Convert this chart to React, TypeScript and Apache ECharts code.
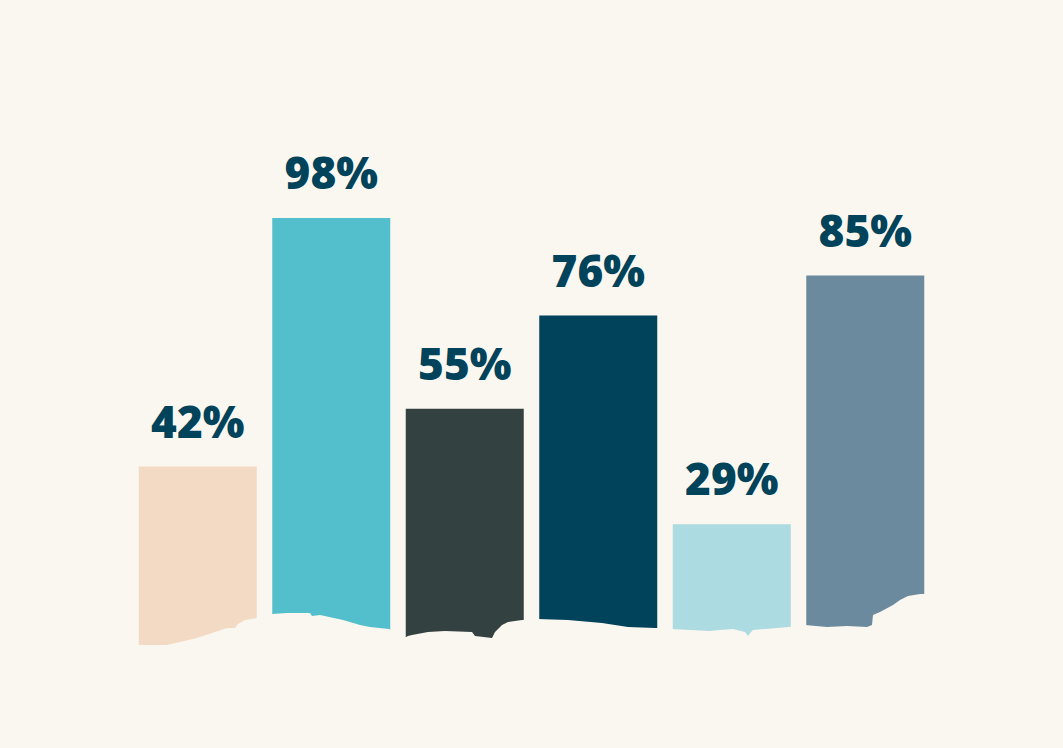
import React, { useEffect, useRef } from "react";
import * as echarts from "echarts";

const categories = ["A", "B", "C", "D", "E", "F"];
const values = [42, 98, 55, 76, 29, 85];
const barColors = ["#F3DAC4", "#53BFCC", "#344141", "#00435A", "#ADDBE2", "#6B8A9E"];
const BG = "#FAF7F0";
const LABEL = "#00435A";

// Irregular "torn" bottom edge drawn over the bars in background colour
const blobOutline: number[][] = [
  [120, 660], [120, 645], [139, 645], [167, 645], [197, 638], [227, 628], [235, 628],
  [238, 624], [245, 620], [257, 618], [265, 616],
  [272, 614], [287, 613], [310, 613], [312, 616], [320, 615], [343, 620], [360, 625], [370, 627], [389, 629],
  [397, 632],
  [404, 638], [408, 636], [412, 635], [428, 632], [445, 631], [472, 632], [475, 636], [492, 638], [495, 632],
  [502, 625], [508, 622], [522, 620], [530, 620],
  [537, 619], [568, 620], [602, 623], [628, 627], [655, 628], [663, 628],
  [671, 629], [710, 631], [720, 630], [733, 629], [745, 632], [748, 636], [751, 632], [753, 630], [789, 627],
  [797, 626],
  [805, 625], [827, 627], [847, 626], [867, 627], [872, 625], [873, 615], [880, 612], [893, 605], [900, 600],
  [908, 596], [920, 594], [923, 594], [940, 594],
  [940, 660],
];

export default function App() {
  const ref = useRef<HTMLDivElement>(null);
  useEffect(() => {
    document.body.style.margin = "0";
    document.body.style.background = BG;
    const chart = echarts.init(ref.current!, null, { renderer: "svg" });
    chart.setOption({
      animation: false,
      backgroundColor: BG,
      grid: { left: 131, right: 131, top: 209, bottom: 95 },
      xAxis: {
        type: "category",
        data: categories,
        axisLine: { show: false },
        axisTick: { show: false },
        axisLabel: { show: false },
      },
      yAxis: {
        type: "value",
        min: 0,
        max: 100,
        show: false,
        splitLine: { show: false },
      },
      series: [
        {
          type: "bar",
          barWidth: 118,
          data: values.map((v, i) => ({ value: v, itemStyle: { color: barColors[i] } })),
          label: {
            show: true,
            position: "top",
            distance: 24,
            formatter: (p: any) => p.value + "%",
            color: LABEL,
            fontFamily: "Open Sans",
            fontWeight: 800,
            fontSize: 44,
          },
          z: 2,
        },
      ],
      graphic: [
        {
          type: "polygon",
          z: 100,
          shape: { points: blobOutline },
          style: { fill: BG },
        },
      ],
    });
    return () => chart.dispose();
  }, []);
  return <div ref={ref} style={{ width: 1063, height: 748 }} />;
}
